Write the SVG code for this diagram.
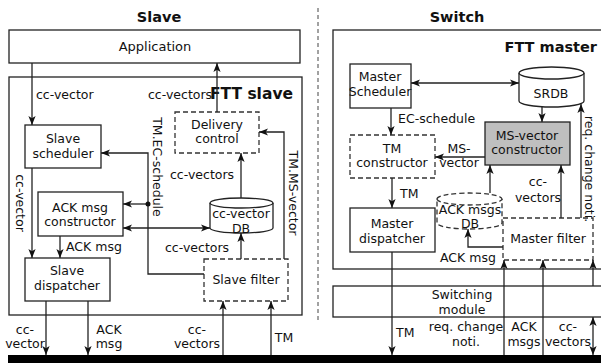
<svg xmlns="http://www.w3.org/2000/svg" width="601" height="363" viewBox="0 0 601 363">
<defs>
<marker id="ah" viewBox="0 0 10 8" refX="10" refY="4" markerWidth="9" markerHeight="7.5" markerUnits="userSpaceOnUse" orient="auto-start-reverse">
<path d="M0,0 L10,4 L0,8 L2.5,4 z" fill="#111"/>
</marker>
</defs>
<style>
text{font-family:"DejaVu Sans","Noto Sans",sans-serif;font-size:12.5px;fill:#111}
.t{font-weight:bold;font-size:14.5px}
.c{text-anchor:middle}
.box{fill:#fff;stroke:#222;stroke-width:1.3}
.dbox{fill:#fff;stroke:#333;stroke-width:1.3;stroke-dasharray:5,3}
.gbox{fill:#bfbfbf;stroke:#222;stroke-width:1.3}
.ln{fill:none;stroke:#222;stroke-width:1.3}
.ar{fill:none;stroke:#222;stroke-width:1.3;marker-end:url(#ah)}
.ar2{fill:none;stroke:#222;stroke-width:1.3;marker-end:url(#ah);marker-start:url(#ah)}
</style>

<text class="t c" x="159" y="22">Slave</text>
<text class="t c" x="457" y="22">Switch</text>
<line x1="318" y1="8" x2="318" y2="320" stroke="#444" stroke-width="1" stroke-dasharray="4,3"/>

<g id="application"><rect class="box" x="9" y="30" width="291" height="33"/><text class="c" x="155" y="51" style="font-size:13px">Application</text></g>
<g id="ftt-slave"><rect class="box" x="9" y="77" width="293" height="238" fill="none"/><text class="t" x="293" y="99" text-anchor="end" style="font-size:15.5px">FTT slave</text></g>
<g id="slave-scheduler"><rect class="box" x="25" y="125" width="76" height="43"/><text class="c" x="63" y="143">Slave</text><text class="c" x="63" y="158">scheduler</text></g>
<g id="ack-constructor"><rect class="box" x="38" y="192" width="85" height="44"/><text class="c" x="80" y="211.5">ACK msg</text><text class="c" x="80" y="226">constructor</text></g>
<g id="slave-dispatcher"><rect class="box" x="25" y="258" width="85" height="43"/><text class="c" x="67" y="275">Slave</text><text class="c" x="67" y="290">dispatcher</text></g>
<g id="delivery-control"><rect class="dbox" x="175" y="112" width="84" height="41"/><text class="c" x="217" y="128.5">Delivery</text><text class="c" x="217" y="143">control</text></g>
<g id="cc-vector-db"><path class="box" d="M210,203 a31.5,5 0 0,1 63,0 v25 a31.5,5 0 0,1 -63,0 z"/><path class="ln" d="M210,203 a31.5,5 0 0,0 63,0"/><text class="c" x="241" y="218">cc-vector</text><text class="c" x="241" y="232.5">DB</text></g>
<g id="slave-filter"><rect class="dbox" x="204" y="259" width="84" height="42"/><text class="c" x="246" y="284">Slave filter</text></g>

<g id="ftt-master"><rect class="box" x="333" y="30" width="300" height="239" fill="none"/><text class="t" x="597" y="52" text-anchor="end">FTT master</text></g>
<g id="master-scheduler"><rect class="box" x="350" y="64" width="61" height="44"/><text class="c" x="380" y="81">Master</text><text class="c" x="380" y="96">Scheduler</text></g>
<g id="srdb"><path class="box" d="M519,73 a32.5,6 0 0,1 65,0 v28 a32.5,6 0 0,1 -65,0 z"/><path class="ln" d="M519,73 a32.5,6 0 0,0 65,0"/><text class="c" x="551" y="98">SRDB</text></g>
<g id="ms-vector-constructor"><rect class="gbox" x="485" y="122" width="85" height="43"/><text class="c" x="527" y="139.5">MS-vector</text><text class="c" x="527" y="154">constructor</text></g>
<g id="tm-constructor"><rect class="dbox" x="350" y="135" width="85" height="43"/><text class="c" x="392" y="152.5">TM</text><text class="c" x="392" y="167">constructor</text></g>
<g id="master-dispatcher"><rect class="box" x="350" y="208" width="85" height="44"/><text class="c" x="392" y="228">Master</text><text class="c" x="392" y="243">dispatcher</text></g>
<g id="ack-msgs-db"><path class="dbox" d="M437,199 a32.5,6 0 0,1 65,0 v24 a32.5,6 0 0,1 -65,0 z"/><path class="dbox" d="M437,199 a32.5,6 0 0,0 65,0" fill="none"/><text class="c" x="470" y="213.5">ACK msgs</text><text class="c" x="470" y="228">DB</text></g>
<g id="master-filter"><rect class="dbox" x="503" y="218" width="90" height="42"/><text class="c" x="548" y="243">Master filter</text></g>
<g id="switching-module"><rect class="box" x="333" y="286" width="300" height="31"/><text class="c" x="462" y="299">Switching</text><text class="c" x="462" y="313.5">module</text></g>
<g id="bus"><rect x="8" y="355" width="600" height="8" fill="#000"/></g>

<g id="connectors">
<path class="ar" d="M32,63 V125"/>
<path class="ar" d="M217,112 V63"/>
<path class="ar" d="M32,168 V258"/>
<path class="ar" d="M60,236 V258"/>
<path class="ar2" d="M123,228 H210"/>
<path class="ar" d="M204,274 H148 V153 H101"/>
<path class="ar" d="M148,204 H123"/>
<circle cx="148" cy="204" r="2.5" fill="#111"/>
<path class="ar" d="M284,259 V132 H259"/>
<path class="ar" d="M241,259 V233"/>
<path class="ar" d="M241,198 V153"/>
<path class="ar" d="M46,301 V355"/>
<path class="ar" d="M88,301 V355"/>
<path class="ar" d="M223,355 V301"/>
<path class="ar" d="M271,355 V301"/>

<path class="ar2" d="M411,83 H519"/>
<path class="ar" d="M391,108 V135"/>
<path class="ar" d="M542,107 V122"/>
<path class="ar" d="M485,157 H435"/>
<path class="ar" d="M392,178 V208"/>
<path class="ar" d="M490,193 V165"/>
<path class="ar" d="M561,218 V165"/>
<path class="ar" d="M581,218 V104"/>
<path class="ar" d="M503,247 H468 V229"/>
<path class="ar" d="M392,252 V355"/>
<path class="ar" d="M504,355 V260"/>
<path class="ar" d="M543,355 V260"/>
<path class="ar" d="M593,286 V260"/>
<path class="ar2" d="M593,317 V355"/>

<text x="36" y="99">cc-vector</text>
<text x="148" y="99">cc-vectors</text>
<text transform="translate(16,203) rotate(90)" class="c">cc-vector</text>
<text transform="translate(153,167) rotate(90)" class="c">TM.EC-schedule</text>
<text transform="translate(289,193) rotate(90)" class="c">TM.MS-vector</text>
<text x="170" y="179">cc-vectors</text>
<text x="66" y="251">ACK msg</text>
<text x="165" y="252">cc-vectors</text>
<text class="c" x="25" y="333.5">cc-</text>
<text class="c" x="25" y="348">vector</text>
<text class="c" x="109" y="333.5">ACK</text>
<text class="c" x="109" y="348">msg</text>
<text class="c" x="197" y="333.5">cc-</text>
<text class="c" x="197" y="348">vectors</text>
<text class="c" x="284" y="342">TM</text>

<text x="398" y="123">EC-schedule</text>
<text class="c" x="459" y="152.5">MS-</text>
<text class="c" x="459" y="167">vector</text>
<text x="400" y="198">TM</text>
<text class="c" x="538" y="186">cc-</text>
<text class="c" x="538" y="202">vectors</text>
<text transform="translate(585,169) rotate(90)" class="c">req. change noti.</text>
<text x="440" y="262">ACK msg</text>
<text x="396" y="337">TM</text>
<text class="c" x="466" y="331">req. change</text>
<text class="c" x="466" y="345.5">noti.</text>
<text class="c" x="524" y="331">ACK</text>
<text class="c" x="524" y="345.5">msgs</text>
<text class="c" x="568" y="331">cc-</text>
<text class="c" x="568" y="345.5">vectors</text>
</g>
</svg>
